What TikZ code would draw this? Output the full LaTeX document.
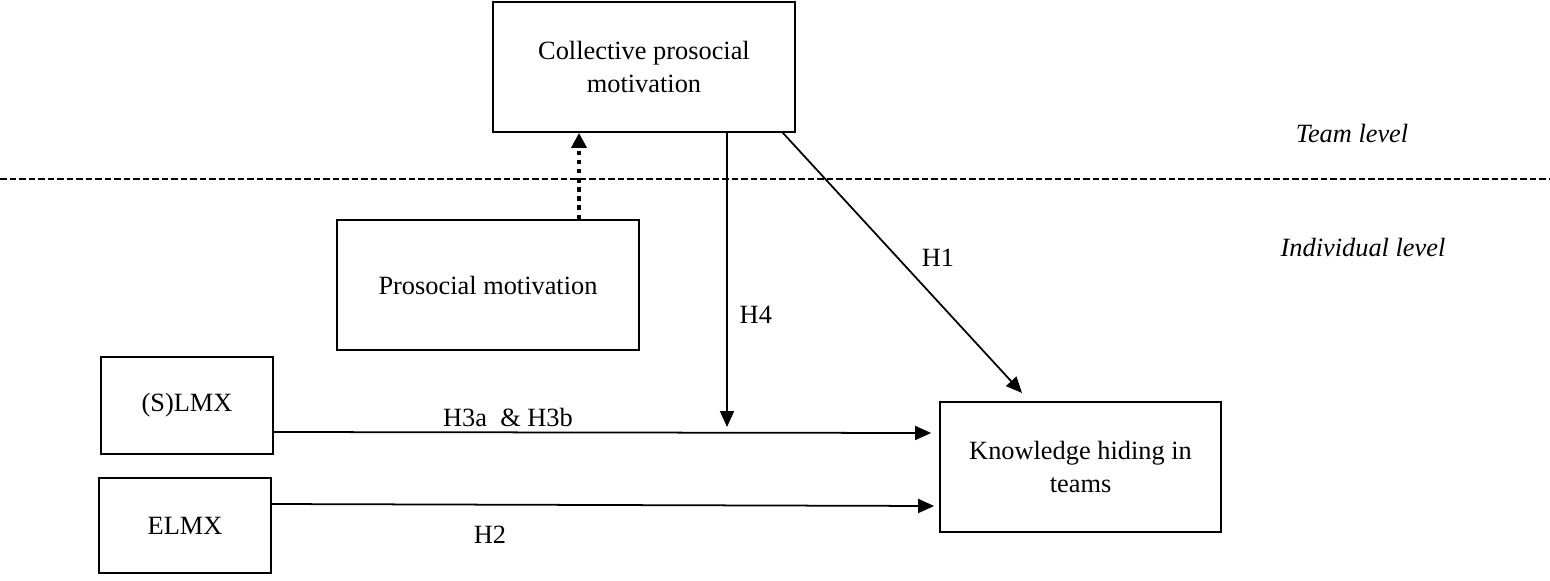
\documentclass[tikz,border=0pt]{standalone}
\usepackage{fontspec}
\setmainfont{Liberation Serif}
\usetikzlibrary{arrows.meta,positioning,calc}

\begin{document}
\begin{tikzpicture}[
    font=\fontsize{15}{18.5}\selectfont,
    var/.style={rectangle, draw, line width=1pt, align=center, inner sep=0pt},
    link/.style={line width=1pt, -{Triangle[length=0.32cm,width=0.28cm]}},
    agg/.style={line width=2pt, dash pattern=on 2.6pt off 2.6pt, -{Triangle[length=0.3cm,width=0.3cm]}},
    lvl/.style={font=\fontsize{15}{18.5}\selectfont\itshape}
]
\useasboundingbox (0,0) rectangle (31,-11.6);

% Variablen
\node (cpm) [var, minimum width=6.04cm, minimum height=2.6cm] at (12.88,-1.34) {Collective prosocial\\motivation};
\node (pm) [var, minimum width=6.04cm, minimum height=2.6cm] at (9.76,-5.7) {Prosocial motivation};
\node (slmx) [var, minimum width=3.44cm, minimum height=1.94cm] at (3.74,-8.11) {(S)LMX};
\node (elmx) [var, minimum width=3.44cm, minimum height=1.9cm] at (3.7,-10.51) {ELMX};
\node (kh) [var, minimum width=5.62cm, minimum height=2.6cm] at (21.61,-9.34) {Knowledge hiding in\\teams};

% Ebenen
\coordinate (sepL) at (0,-3.58);
\coordinate (sepR) at (31,-3.58);
\draw[line width=0.6pt, dash pattern=on 0.13cm off 0.06cm] (sepL) -- (sepR);
\node (team) [lvl] at (27.04,-2.66) {Team level};
\node (indiv) [lvl] at (27.26,-4.96) {Individual level};

% Pfade
\draw[agg] ([xshift=1.82cm]pm.north) -- ([xshift=1.82cm]pm.north |- cpm.south);

\coordinate (h4end) at (14.54,-8.54);
\draw[link] (h4end |- cpm.south) -- node[right, pos=0.62, xshift=0.12cm] (h4) {H4} (h4end);

\coordinate (h1end) at (20.44,-7.86);
\draw[link] ([xshift=-0.26cm]cpm.south east) -- (h1end);
\node (h1) at (18.76,-5.16) {H1};

\draw[link] ([yshift=-0.53cm]slmx.east) -- ([yshift=0.68cm, xshift=-0.16cm]kh.west);
\node (h3) at (10.16,-8.34) {H3a~ \& H3b};

\draw[link] ([yshift=0.43cm]elmx.east) -- ([yshift=-0.78cm, xshift=-0.1cm]kh.west);
\node (h2) at (9.8,-10.7) {H2};

\end{tikzpicture}
\end{document}
